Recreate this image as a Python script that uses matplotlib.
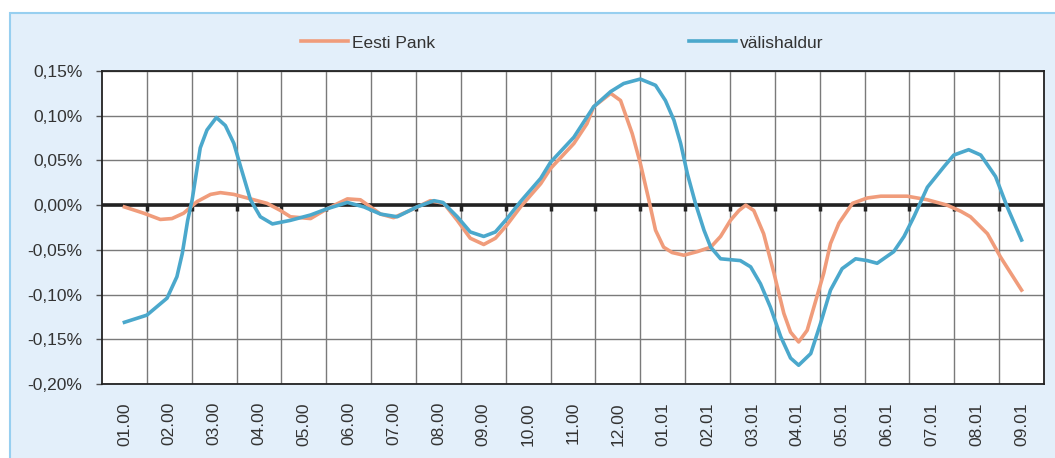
import numpy as np
import matplotlib.pyplot as plt
from matplotlib.patches import Rectangle
from matplotlib.ticker import FixedLocator, FuncFormatter

plt.rcParams['font.family'] = ['Liberation Sans', 'DejaVu Sans']

kuud = ['01.00', '02.00', '03.00', '04.00', '05.00', '06.00', '07.00',
        '08.00', '09.00', '10.00', '11.00', '12.00', '01.01', '02.01',
        '03.01', '04.01', '05.01', '06.01', '07.01', '08.01', '09.01']

# aeg kuudes alates 01.00, väärtused protsentides
aeg_valis = [0.00, 0.50, 0.95, 1.17, 1.29, 1.41, 1.51, 1.69, 1.84, 2.05,
             2.25, 2.44, 2.59, 2.81, 3.03, 3.30, 3.70, 4.15, 4.52, 4.97,
             5.34, 5.71, 6.08, 6.52, 6.90, 7.10, 7.42, 7.71, 8.01, 8.27,
             8.53, 8.83, 9.28, 9.50, 10.02, 10.46, 10.84, 11.13, 11.50, 11.84,
             12.06, 12.25, 12.40, 12.55, 12.73, 12.92, 13.07, 13.29, 13.73, 13.96,
             14.18, 14.40, 14.63, 14.85, 15.03, 15.30, 15.52, 15.74, 16.00, 16.30,
             16.56, 16.78, 17.15, 17.38, 17.60, 17.90, 18.27, 18.49, 18.82, 19.09,
             19.42, 19.68, 20.00]
valishaldur = [-0.131, -0.123, -0.104, -0.080, -0.054, -0.017, 0.006, 0.064, 0.084, 0.098,
               0.089, 0.069, 0.043, 0.006, -0.013, -0.021, -0.017, -0.011, -0.004, 0.003,
               -0.002, -0.010, -0.013, -0.002, 0.005, 0.003, -0.013, -0.030, -0.035, -0.030,
               -0.015, 0.004, 0.030, 0.048, 0.076, 0.110, 0.127, 0.136, 0.141, 0.134,
               0.117, 0.095, 0.069, 0.035, 0.002, -0.028, -0.047, -0.060, -0.062, -0.069,
               -0.088, -0.114, -0.147, -0.171, -0.179, -0.166, -0.132, -0.095, -0.071, -0.060,
               -0.062, -0.065, -0.052, -0.035, -0.013, 0.020, 0.043, 0.056, 0.062, 0.056,
               0.032, -0.002, -0.039]

aeg_ep = [0.00, 0.43, 0.80, 1.06, 1.32, 1.62, 1.92, 2.14, 2.44, 2.81,
          3.18, 3.48, 3.70, 4.15, 4.52, 4.97, 5.26, 5.71, 6.00, 6.45,
          6.82, 7.12, 7.42, 7.71, 8.01, 8.27, 8.53, 8.83, 9.28, 9.50,
          10.02, 10.31, 10.46, 10.84, 11.06, 11.32, 11.50, 11.69, 11.84, 12.02,
          12.21, 12.47, 12.77, 13.07, 13.29, 13.51, 13.70, 13.85, 14.03, 14.25,
          14.48, 14.70, 14.85, 15.03, 15.22, 15.37, 15.59, 15.74, 15.93, 16.23,
          16.56, 16.86, 17.45, 17.90, 18.34, 18.65, 18.86, 19.24, 19.53, 20.00]
eesti_pank = [-0.002, -0.009, -0.016, -0.015, -0.009, 0.004, 0.012, 0.014, 0.012, 0.007,
              0.002, -0.006, -0.013, -0.015, -0.004, 0.007, 0.006, -0.010, -0.014, -0.004,
              0.005, 0.002, -0.017, -0.037, -0.044, -0.037, -0.022, -0.002, 0.024, 0.041,
              0.069, 0.091, 0.110, 0.125, 0.117, 0.080, 0.047, 0.006, -0.028, -0.047,
              -0.053, -0.056, -0.052, -0.047, -0.035, -0.017, -0.006, 0.000, -0.006, -0.032,
              -0.076, -0.121, -0.142, -0.153, -0.140, -0.114, -0.076, -0.043, -0.020, 0.002,
              0.008, 0.010, 0.010, 0.006, 0.000, -0.007, -0.013, -0.032, -0.058, -0.095]

oranz = '#f09c7b'
sinine = '#4ba8cc'
tekst = '#333333'

fig = plt.figure(figsize=(10.55, 4.58), dpi=100)
fig.patches.append(Rectangle((10 / 1055, -0.05), 1.1, 1 - 13 / 458 + 0.05,
                             transform=fig.transFigure, facecolor='#e3effa',
                             edgecolor='#97cff0', linewidth=1.5, zorder=-1))

ax = fig.add_axes([102 / 1055, 1 - 384 / 458, 942 / 1055, 313 / 458])
ax.set_facecolor('white')

ax.plot(aeg_ep, eesti_pank, color=oranz, lw=2.6, label='Eesti Pank', zorder=4,
        solid_joinstyle='round')
ax.plot(aeg_valis, valishaldur, color=sinine, lw=2.6, label='välishaldur', zorder=5,
        solid_joinstyle='round')

ax.set_xlim(-0.5, len(kuud) - 0.5)
ax.set_ylim(-0.20, 0.15)

# nulljoon koos väikeste kriipsudega
ax.axhline(0, color='#222222', lw=2.6, zorder=3)
piirid = np.arange(0.5, len(kuud) - 0.5)
ax.plot(piirid, np.zeros(len(piirid)), ls='none', marker=3, markersize=4,
        markeredgewidth=2.5, color='#222222', zorder=3)

ax.set_xticks(range(len(kuud)))
ax.set_xticklabels(kuud, rotation=90, fontsize=12.5, color=tekst, va='top')
ax.tick_params(axis='x', which='major', length=0, pad=13)
ax.xaxis.set_minor_locator(FixedLocator(piirid))
ax.tick_params(axis='x', which='minor', length=0)
ax.grid(True, axis='x', which='minor', color='#7a7a7a', lw=1)

ax.set_yticks(np.arange(-0.20, 0.151, 0.05))
ax.yaxis.set_major_formatter(FuncFormatter(lambda v, p: f'{v:.2f}%'.replace('.', ',').replace('-0,00', '0,00')))
ax.tick_params(axis='y', length=4, width=1, color='#555555', pad=10, labelsize=12.5,
               labelcolor=tekst)
ax.grid(True, axis='y', which='major', color='#7a7a7a', lw=1)
ax.set_axisbelow(True)

for s in ax.spines.values():
    s.set_color('#222222')
    s.set_linewidth(1.3)

fig.legend(loc='center', bbox_to_anchor=(0.533, 1 - 43 / 458), ncol=2, frameon=False,
           fontsize=12.5, handlelength=2.7, handletextpad=0.25, columnspacing=14.6,
           labelcolor=tekst)

fig.savefig('out.png', dpi=100)
